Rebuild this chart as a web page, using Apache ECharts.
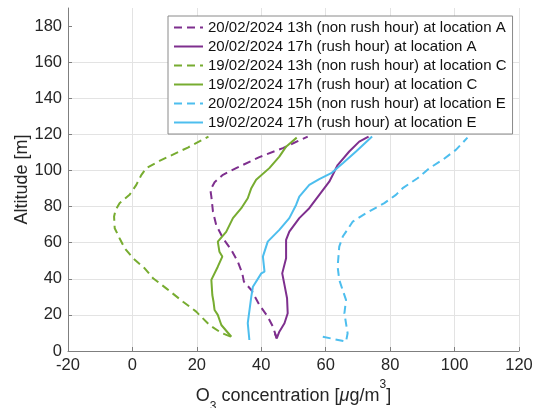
<!DOCTYPE html>
<html>
<head>
<meta charset="utf-8">
<script src="https://cdn.jsdelivr.net/npm/echarts@6/dist/echarts.min.js"></script>
<style>html,body{margin:0;padding:0;background:#fff}#c{width:538px;height:408px}</style>
</head>
<body>
<div id="c"></div>
<script>
// ---- data ----
const seriesNames = [
  '20/02/2024 13h (non rush hour) at location A',
  '20/02/2024 17h (rush hour) at location A',
  '19/02/2024 13h (non rush hour) at location C',
  '19/02/2024 17h (rush hour) at location C',
  '20/02/2024 15h (non rush hour) at location E',
  '19/02/2024 17h (rush hour) at location E'
];
// ozone concentration (µg/m3) and altitude (m) per series
const a13_x = [44.8, 44.6, 43.6, 42, 39.4, 36.9, 34.6, 34.1, 32.7, 30.7, 28.1, 26, 25, 24.5, 24.2, 25.5, 28.1, 32.2, 39.4, 46.7, 54.4];
const a13_y = [7, 7.9, 13.5, 19, 25.5, 33.8, 38.4, 43, 49.5, 56, 62.5, 69.8, 77.2, 85.5, 89.2, 93.5, 97.6, 101.3, 107.4, 112.4, 118.8];

const a17_x = [44.2, 44.8, 45.6, 47.2, 48.2, 48, 47.2, 46.5, 47.7, 47.7, 48.7, 51.8, 54.9, 58, 61.1, 62.2, 63.7, 67.3, 70.4, 73.3];
const a17_y = [9.8, 7, 10.7, 15.4, 20.9, 29.2, 36.6, 43, 51.4, 61.5, 66.1, 73.6, 79.1, 86.5, 93.8, 97.6, 103, 110.5, 116, 118.8];

const c13_x = [30.5, 27.6, 23.9, 19.8, 15.7, 10.5, 6.4, 3.8, 0.2, -2.4, -4, -5.5, -5.7, -5.2, -4, -0.9, 1.2, 2.8, 4.3, 8.4, 17.2, 23.6];
const c13_y = [8, 10, 14.4, 21.8, 27.3, 34.7, 40.3, 45.8, 51.4, 56.9, 62.5, 68, 74.5, 78.2, 81.9, 86.5, 92, 97.6, 101.3, 105.3, 112.7, 118.8];

const c17_x = [30.7, 27.6, 26.5, 25.5, 25.2, 24.8, 24.5, 26.5, 27.9, 27, 26.5, 29.1, 31.2, 33.8, 35.8, 36.9, 38.4, 42.5, 45.6, 47.7, 51];
const c17_y = [7.9, 14.4, 20, 22.7, 27, 31, 39.4, 46.7, 52.3, 55, 60.6, 66, 73.6, 79.1, 84.6, 90.2, 94.8, 101.3, 107.7, 113.2, 118.2];

const e15_x = [59.1, 66.3, 66.8, 65.8, 66.3, 64.2, 63.7, 64.2, 65.3, 68.4, 72.5, 78.2, 81.8, 83.9, 88.5, 92.2, 96.3, 100.4, 104];
const e15_y = [7.9, 5.2, 9.8, 20.9, 28.3, 39.4, 46.7, 57.8, 63.4, 71.7, 76.3, 81.9, 86.5, 90.2, 95.7, 101.3, 105.9, 111.4, 118.2];

const e17_x = [36.3, 35.8, 36.9, 37.4, 40, 41, 40.5, 42, 45.6, 48.7, 50.8, 51.8, 54.9, 58, 61.7, 65.3, 69.4, 74.4];
const e17_y = [6.1, 15.4, 30.1, 35.6, 43, 44, 52.3, 60.6, 67.1, 73.6, 80.9, 85.5, 92, 95.2, 98.5, 104, 110.5, 118.8];

const xTicks = [-20, 0, 20, 40, 60, 80, 100, 120];
const yTicks = [0, 20, 40, 60, 80, 100, 120, 140, 160, 180];

const colors = ['#7E2F8E', '#7E2F8E', '#77AC30', '#77AC30', '#4DBEEE', '#4DBEEE'];
const dashed = [true, false, true, false, true, false];
const xs = [a13_x, a17_x, c13_x, c17_x, e15_x, e17_x];
const ys = [a13_y, a17_y, c13_y, c17_y, e15_y, e17_y];

function pairs(x, y) { return x.map((v, i) => [v, y[i]]); }

const FONT = '"Liberation Sans", Arial, Helvetica, sans-serif';
const chart = echarts.init(document.getElementById('c'), null, {renderer: 'canvas'});
chart.setOption({
  animation: false,
  backgroundColor: '#ffffff',
  textStyle: {fontFamily: FONT},
  grid: {left: 68, right: 19, top: 8, bottom: 57, containLabel: false, outerBoundsMode: 'none'},
  legend: {
    orient: 'vertical',
    left: 168, top: 16,
    padding: [4, 6, 4, 5],
    backgroundColor: '#ffffff',
    borderColor: '#8a8a8a',
    borderWidth: 1,
    borderRadius: 0,
    itemWidth: 29,
    itemHeight: 14,
    itemGap: 4,
    itemStyle: {opacity: 0},
    textStyle: {fontFamily: FONT, fontSize: 15, color: '#111', lineHeight: 15},
    data: seriesNames
  },
  xAxis: {
    type: 'value', min: -20, max: 120, interval: 20,
    name: '{a|O}{sub|3}{a| concentration [}{mu|μ}{a|g/m}{sup|3}{a|]}',
    nameLocation: 'middle', nameGap: 28, nameMoveOverlap: false,
    nameTextStyle: {
      rich: {
        a: {fontFamily: FONT, fontSize: 18, color: '#262626', lineHeight: 34, verticalAlign: 'middle'},
        mu: {fontFamily: FONT, fontSize: 18, color: '#262626', fontStyle: 'italic', lineHeight: 34, verticalAlign: 'middle'},
        sub: {fontFamily: FONT, fontSize: 12, color: '#262626', lineHeight: 12, verticalAlign: 'bottom'},
        sup: {fontFamily: FONT, fontSize: 12, color: '#262626', lineHeight: 12, verticalAlign: 'top'}
      }
    },
    axisLine: {show: true, onZero: false, lineStyle: {color: '#7f7f7f', width: 1}},
    axisTick: {show: true, inside: true, length: 4, lineStyle: {color: '#7f7f7f'}},
    axisLabel: {fontFamily: FONT, fontSize: 16.5, color: '#262626', margin: 6},
    splitLine: {show: true, lineStyle: {color: '#e3e3e3', width: 1}}
  },
  yAxis: {
    type: 'value', min: 0, max: 190, interval: 20,
    name: 'Altitude [m]',
    nameLocation: 'middle', nameGap: 37, nameMoveOverlap: false,
    nameTextStyle: {fontFamily: FONT, fontSize: 18, color: '#262626'},
    axisLine: {show: true, onZero: false, lineStyle: {color: '#7f7f7f', width: 1}},
    axisTick: {show: true, inside: true, length: 4, lineStyle: {color: '#7f7f7f'}, customValues: yTicks},
    axisLabel: {fontFamily: FONT, fontSize: 16.5, color: '#262626', margin: 6, customValues: yTicks},
    splitLine: {show: true, showMaxLine: false, lineStyle: {color: '#e3e3e3', width: 1}}
  },
  series: seriesNames.map((n, i) => ({
    name: n,
    type: 'line',
    data: pairs(xs[i], ys[i]),
    showSymbol: false,
    symbol: 'none',
    smooth: false,
    color: colors[i],
    lineStyle: {color: colors[i], width: 2, type: dashed[i] ? [8, 5] : 'solid'}
  }))
});
</script>
</body>
</html>
